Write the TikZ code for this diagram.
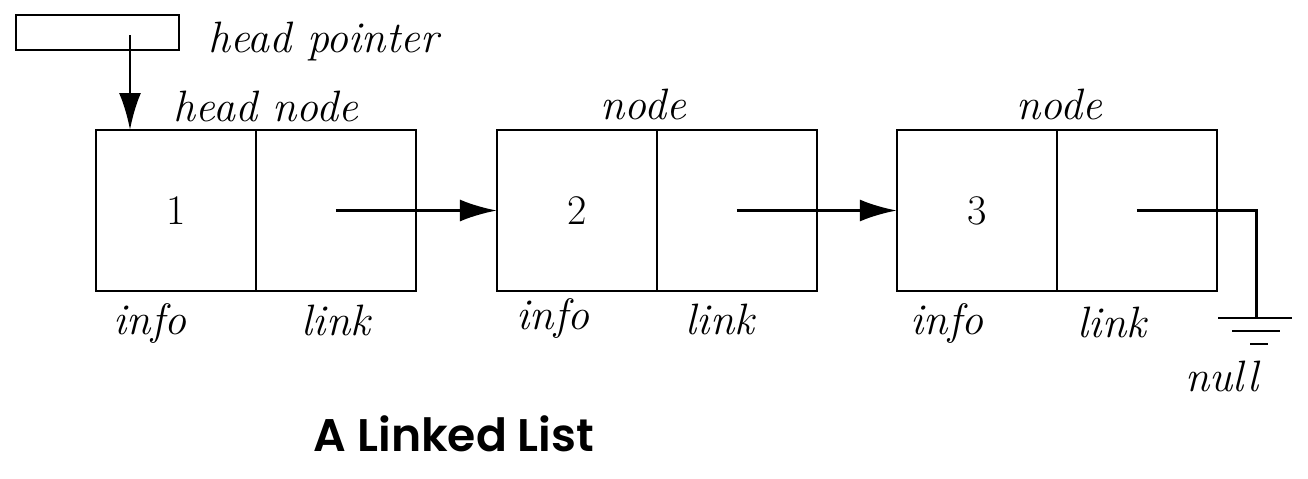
\documentclass[tikz,border=0pt]{standalone}
\usepackage{fontspec}
\newfontfamily\titlefont{Poppins}[BoldFont={* SemiBold}]
\usetikzlibrary{positioning,arrows.meta}

\begin{document}
\begin{tikzpicture}[
    x=0.02cm, y=-0.02cm,
    cell/.style={
        rectangle,
        draw,
        line width=1.1pt,
        minimum width=3.2cm,
        minimum height=3.22cm,
        inner sep=0pt,
        outer sep=0pt,
        text depth=-0.12cm,
        font=\fontsize{24}{28}\selectfont
    },
    lbl/.style={
        font=\fontsize{25}{28}\selectfont\itshape
    },
    ptr/.style={
        -{Latex[length=7.4mm,width=4.4mm]},
        line width=1.7pt
    },
    wire/.style={
        line width=1.7pt
    }
]
\useasboundingbox (0,0) rectangle (1308,478);

% Head pointer
\node[cell, minimum width=3.26cm, minimum height=0.7cm] (hp) at (97.5,32.5) {};
\node[lbl, anchor=west] (hplbl) at (202,42) {head pointer};
\coordinate (hpin) at (130,35);

% List nodes
\node[cell] (info1) at (176,210.5) {1};
\node[cell, right=0pt of info1] (link1) {};

\node[cell, right=1.62cm of link1] (info2) {2};
\node[cell, right=0pt of info2] (link2) {};

\node[cell, right=1.6cm of link2] (info3) {3};
\node[cell, right=0pt of info3] (link3) {};

% Labels
\node[lbl] (hdlbl) at (266,106) {head node};
\node[lbl] (nd2lbl) at (643,104) {node};
\node[lbl] (nd3lbl) at (1059,104) {node};

\node[lbl] (info1lbl) at (150,324) {info};
\node[lbl] (link1lbl) at (336,320) {link};
\node[lbl] (info2lbl) at (553,319) {info};
\node[lbl] (link2lbl) at (720,319) {link};
\node[lbl] (info3lbl) at (947,324) {info};
\node[lbl] (link3lbl) at (1112,322) {link};

% Ground
\coordinate (gnd) at (1256,318);
\node[lbl] (nulllbl) at (1222,376) {null};

% Connections
\draw[ptr] (hpin) -- (hpin |- info1.north);

\draw[ptr] (link1.center) -- (info2.west);

\draw[ptr] (link2.center) -- (info3.west);

\draw[wire] (link3.center) -| (gnd);

\draw[line width=1.1pt] (gnd) ++(-38,0) -- ++(74,0);
\draw[line width=1.1pt] (gnd) ++(-24,13) -- ++(48,0);
\draw[line width=1.1pt] (gnd) ++(-6,26) -- ++(18,0);

% Title
\node[font=\titlefont\fontsize{26}{30}\selectfont\bfseries] (title) at (454,434) {A Linked List};

\end{tikzpicture}
\end{document}
